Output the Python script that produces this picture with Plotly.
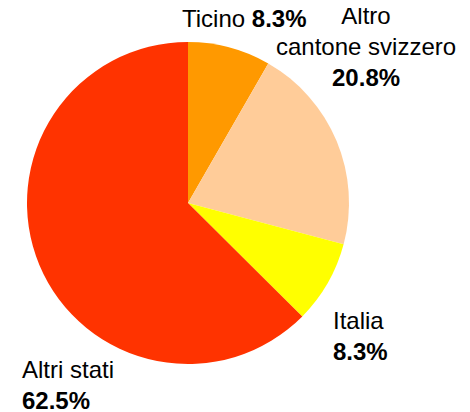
import plotly.graph_objects as go

# the page body adds an 8px margin, so the figure is drawn 8px smaller
OFF = 8
W, H = 470 - OFF, 412 - OFF

labels = ["Ticino", "Altro cantone svizzero", "Italia", "Altri stati"]
label_text = ["Ticino", "Altro<br>cantone svizzero", "Italia", "Altri stati"]
shares = [8.3, 20.8, 8.3, 62.5]
colors = ["#FF9900", "#FFCC99", "#FFFF00", "#FF3300"]

# label placement in page pixels (x, y, xanchor, align, single line?)
label_pos = [
    (244, 18, "center", "center", True),
    (366, 47, "center", "center", False),
    (331, 336, "left", "left", False),
    (20, 385, "left", "left", False),
]


def px_x(v):
    return (v - OFF) / W


def px_y(v):
    return 1 - (v - OFF) / H


fig = go.Figure(go.Pie(
    labels=labels, values=shares, sort=False, direction="clockwise",
    rotation=0, marker=dict(colors=colors, line=dict(width=0)),
    textinfo="none", hoverinfo="label+percent", showlegend=False,
    domain=dict(x=[px_x(27), px_x(349)], y=[px_y(364), px_y(42)]),
))

for txt, val, (px, py, xa, al, one) in zip(label_text, shares, label_pos):
    sep = " " if one else "<br>"
    fig.add_annotation(
        text=f"{txt}{sep}<b>{val:.1f}%</b>", x=px_x(px), y=px_y(py),
        xref="paper", yref="paper", xanchor=xa, yanchor="middle", align=al,
        showarrow=False, font=dict(size=24, color="#000000"),
    )

fig.update_layout(
    width=W, height=H, margin=dict(l=0, r=0, t=0, b=0),
    paper_bgcolor="white", plot_bgcolor="white",
    font=dict(family="Liberation Sans, Arial, sans-serif"),
)
fig.write_html("out.html")
